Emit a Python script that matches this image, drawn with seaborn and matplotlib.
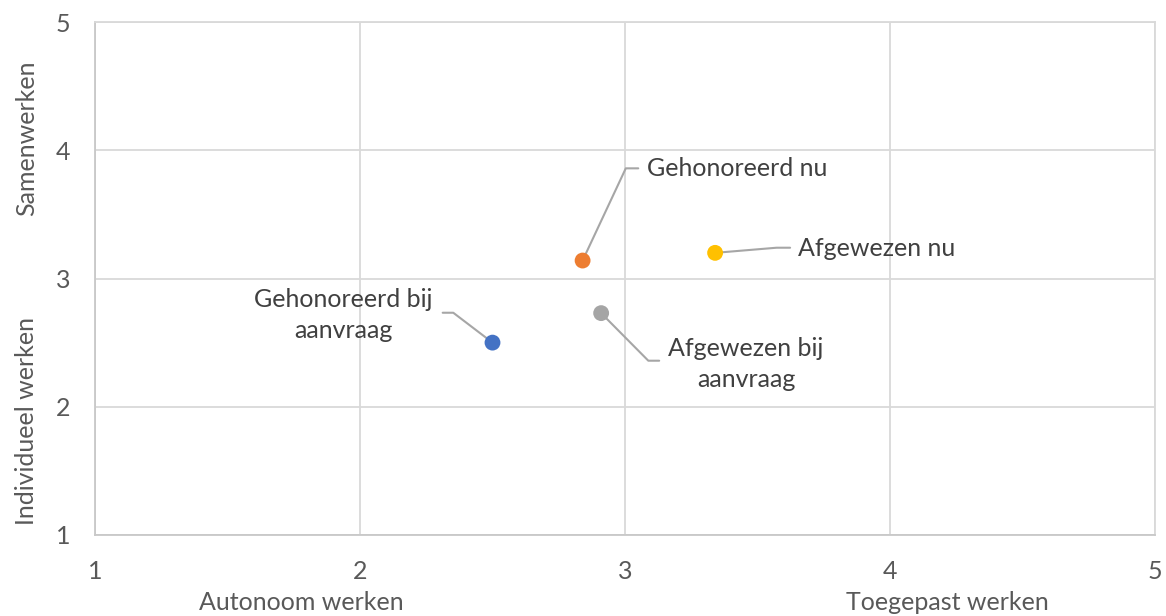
import matplotlib
matplotlib.use("Agg")
import matplotlib.pyplot as plt
import seaborn as sns
import pandas as pd

# ---- data ----
groups = ["Gehonoreerd bij aanvraag", "Gehonoreerd nu", "Afgewezen bij aanvraag", "Afgewezen nu"]
x_vals = [2.50, 2.84, 2.91, 3.34]
y_vals = [2.50, 3.14, 2.73, 3.20]
colors = ["#4472C4", "#ED7D31", "#A5A5A5", "#FFC000"]
label_texts = ["Gehonoreerd bij\naanvraag", "Gehonoreerd nu", "Afgewezen bij\naanvraag", "Afgewezen nu"]
ticks = [1, 2, 3, 4, 5]

# label placement (data coords): text pos, elbow, end of leader
label_pos = [(1.936, 2.715), (3.083, 3.86), (3.457, 2.333), (3.653, 3.232)]
label_ha = ["center", "left", "center", "left"]
elbows = [(2.352, 2.733), (3.003, 3.859), (3.088, 2.359), (3.572, 3.240)]
ends_x = [2.312, 3.050, 3.129, 3.623]

sns.set_theme(style="white")
plt.rcParams["font.family"] = ["Lato", "DejaVu Sans"]

df = pd.DataFrame({"x": x_vals, "y": y_vals, "group": groups})

fig = plt.figure(figsize=(11.66, 6.16), dpi=100)
ax = fig.add_axes([95 / 1166, 1 - 535 / 616, 1060 / 1166, 513 / 616])

ax.set_xlim(1, 5)
ax.set_ylim(1, 5)
ax.set_xticks(ticks)
ax.set_yticks(ticks)
ax.grid(True, color="#D9D9D9", linewidth=1.3)
ax.set_axisbelow(True)
for s in ax.spines.values():
    s.set_color("#D9D9D9")
    s.set_linewidth(1.3)
ax.spines["left"].set_color("#C8C8C8")
ax.spines["bottom"].set_color("#C8C8C8")
ax.tick_params(axis="both", length=0, pad=18, labelsize=18, labelcolor="#595959")

# leader lines
for (px, py), (ex, ey), endx in zip(zip(x_vals, y_vals), elbows, ends_x):
    ax.plot([px, ex, endx], [py, ey, ey], color="#A6A6A6", linewidth=1.5, zorder=2)

sns.scatterplot(data=df, x="x", y="y", hue="group", palette=colors,
                s=130, edgecolor="none", legend=False, ax=ax, zorder=3)

for txt, (tx, ty), ha in zip(label_texts, label_pos, label_ha):
    ax.text(tx, ty, txt, ha=ha, va="center", fontsize=18, color="#404040",
            linespacing=1.4)

ax.set_xlabel("")
ax.set_ylabel("")

# axis end labels
lab_kw = dict(ha="center", va="center", fontsize=18, color="#595959")
fig.text(301 / 1166, 1 - 603 / 616, "Autonoom werken", **lab_kw)
fig.text(947 / 1166, 1 - 603 / 616, "Toegepast werken", **lab_kw)
fig.text(27 / 1166, 1 - 138 / 616, "Samenwerken", rotation=90, **lab_kw)
fig.text(27 / 1166, 1 - 421 / 616, "Individueel werken", rotation=90, **lab_kw)

fig.savefig("out.png", dpi=100, facecolor="white")
